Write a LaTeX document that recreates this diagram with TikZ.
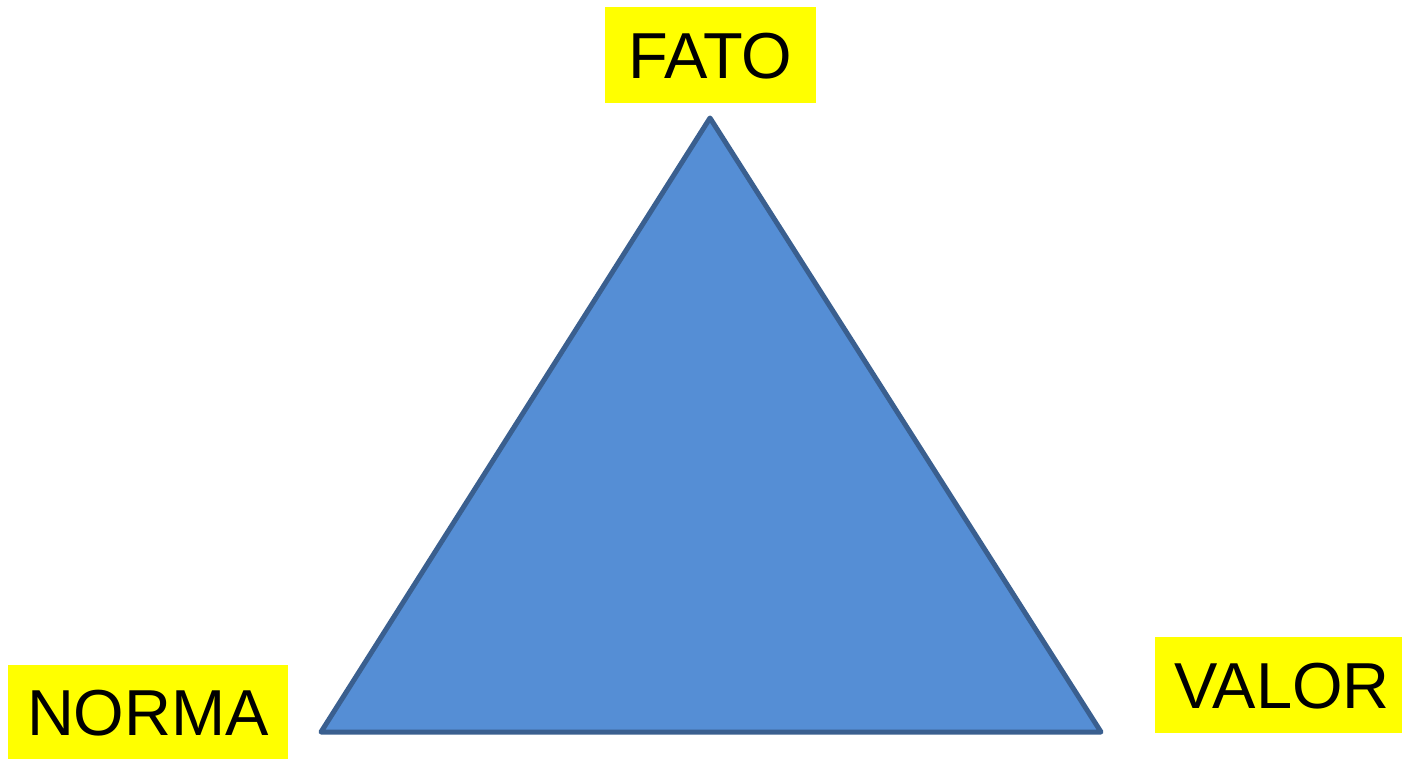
\documentclass[tikz,border=0pt]{standalone}
\usepackage{fontspec}
\setmainfont{Liberation Sans}
\usepackage{xcolor}
\definecolor{TriFill}{HTML}{558ED5}
\definecolor{TriLine}{HTML}{3A5F8F}
\definecolor{TagYellow}{HTML}{FFFF00}
\usetikzlibrary{positioning}

\begin{document}
\begin{tikzpicture}[x=1pt,y=-1pt,
  every node/.style={font=\fontsize{65}{78}\selectfont},
  tag/.style={fill=TagYellow,inner sep=0pt,text height=47pt,text depth=0pt},
  side/.style={draw=TriLine,fill=TriFill,line width=5pt,line join=round}]
\useasboundingbox (0,0) rectangle (1402,759);
% corners of the triangle
\coordinate (top) at (710,118);
\coordinate (left) at (321,732);
\coordinate (right) at (1101,732);
\filldraw[side] (top) -- (left) -- (right) -- cycle;
% labels
\node[tag,minimum width=211pt,minimum height=96pt] (fato) at (710.5,55) {FATO};
\node[tag,minimum width=280pt,minimum height=94pt] (norma) at (148,712) {NORMA};
\node[tag,minimum width=247pt,minimum height=96pt] (valor) at (1278.5,685) {\hspace{7pt}VALOR};
\end{tikzpicture}
\end{document}
